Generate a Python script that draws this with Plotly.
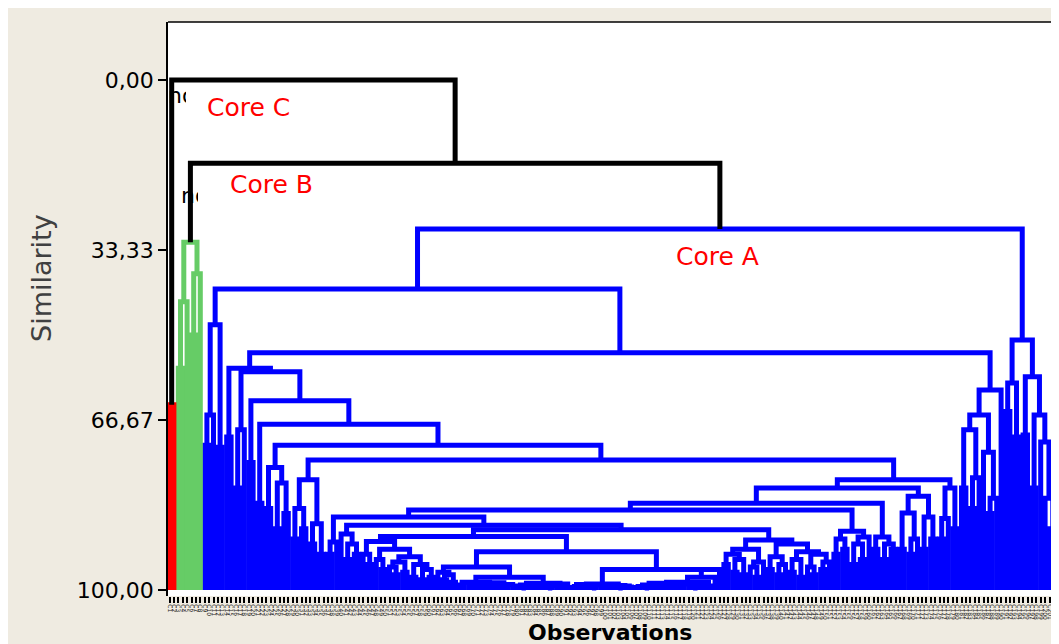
import plotly.graph_objects as go

# ---------------- data ----------------
cluster_names = ["Core C", "Core B", "Core A"]
cluster_sizes = [2, 6, 195]          # observations per cluster, in display order

# similarity level at which each observation joins its right-hand neighbour
# (height of their common node, read off the dendrogram)
merge_similarity = [
    63.7, 0.0, 56.5, 43.5, 31.8, 50.0, 38.0, 16.3,
    71.6, 65.7, 48.0, 72.0, 41.0,
    70.0, 56.5, 80.0, 68.6, 57.2, 75.0, 62.9, 83.0, 67.5,
    84.0, 76.0, 88.0, 79.0, 85.0, 71.6,
    90.0, 84.0, 88.0, 78.4, 91.0, 87.0, 93.0, 74.5,
    93.0, 90.6, 85.7,
    89.0, 94.0, 91.0, 93.0, 87.3,
    93.0, 95.0, 90.5, 94.0, 96.0, 92.0, 95.5, 97.0, 94.5, 96.5,
    93.5, 97.5, 95.0, 98.0, 96.0, 97.5, 89.5, 96.5, 98.0, 97.0,
    98.5, 95.5, 99.0, 98.5, 99.2, 98.8, 99.3, 98.6, 99.4, 99.0,
    99.5, 99.1, 99.4, 98.9, 97.5, 99.2, 99.6, 99.0, 99.4, 98.7,
    99.5, 99.2, 99.6, 99.1, 99.4, 98.8, 99.5, 92.5, 99.3, 98.9,
    99.5, 99.2, 99.6, 99.0, 99.4, 98.8, 99.5, 99.1, 99.6, 99.2,
    99.4, 96.0, 99.5, 99.3, 99.6, 99.0, 99.4, 98.7, 99.5, 99.1,
    99.4, 99.2, 99.5, 98.8, 99.3, 99.6, 99.1, 98.5, 99.2, 97.5,
    96.0, 88.2, 95.0, 93.0, 96.5, 94.0, 97.0, 92.0, 95.5, 97.5,
    94.5, 90.2, 96.0, 93.5, 97.0, 95.0, 91.0, 96.5, 94.0, 97.5,
    92.5, 95.5, 97.0, 93.0, 96.0, 94.5,
    84.3,
    93.0, 90.0, 92.0, 88.5, 95.0, 91.0, 94.0, 89.6,
    83.0,
    92.0, 89.6, 94.0, 91.0, 92.0,
    80.0,
    92.0, 84.9, 93.0, 90.0, 81.6, 92.0, 85.7, 90.0,
    78.4,
    90.0, 86.0, 80.0, 88.0,
    53.5,
    80.0, 68.6, 84.0, 78.0, 65.7, 73.0, 85.0, 82.0, 60.8,
    29.2,
    65.0, 59.4, 70.0, 51.0, 69.6, 58.2, 80.0, 65.7, 71.0, 82.0, 88.0, 91.0,
]

n_obs = sum(cluster_sizes)
observation_labels = ["C%d" % (i + 1) for i in range(n_obs)]

y_tick_values = [0.0, 33.33, 66.67, 100.0]
y_tick_labels = ["0,00", "33,33", "66,67", "100,00"]

# ---------------- styles ----------------
cluster_colors = {0: "#FF0000", 1: "#66CC66", 2: "#0000FF", -1: "#000000"}
FONT = "DejaVu Sans"
LW = 5

# page pixels (window 1059x644, the page body has an 8px margin)
OFF = 8
FIG_W, FIG_H = 1059 - OFF, 644 - OFF
PL, PR, PT, PB = 168, 1059, 22, 596      # plot area in page pixels

def xd(px):
    return (px - 169.5) / 4.4

def yd(py):
    return (py - 80.0) / 5.1

group_of = []
for g, s in enumerate(cluster_sizes):
    group_of += [g] * s

paths = {k: ([], []) for k in cluster_colors}

def build(lo, hi):
    if lo == hi:
        return float(lo), 100.0, group_of[lo]
    seg = merge_similarity[lo:hi]
    m = min(seg)
    k = lo + seg.index(m)
    lx, ly, lc = build(lo, k)
    rx, ry, rc = build(k + 1, hi)
    col = lc if lc == rc else -1
    xs, ys = paths[col]
    xs += [lx, lx, rx, rx, None]
    ys += [ly, m, m, ry, None]
    return (lx + rx) / 2.0, m, col

build(0, n_obs - 1)

fig = go.Figure()
for key in [2, 1, 0, -1]:
    xs, ys = paths[key]
    if xs:
        fig.add_trace(go.Scatter(x=xs, y=ys, mode="lines",
                                 line=dict(color=cluster_colors[key], width=LW),
                                 hoverinfo="skip", showlegend=False))

# partially hidden node captions
fig.add_trace(go.Scatter(x=[xd(168), xd(181)], y=[yd(97), yd(197)], mode="text",
                         text=["node", "node"], textposition="middle right",
                         textfont=dict(family=FONT, size=22, color="black"),
                         hoverinfo="skip", showlegend=False))

shapes = [
    dict(type="rect", xref="x", yref="y", x0=xd(186), x1=xd(300), y0=yd(84), y1=yd(130),
         fillcolor="white", line=dict(width=0), layer="above"),
    dict(type="rect", xref="x", yref="y", x0=xd(198), x1=xd(335), y0=yd(167), y1=yd(212),
         fillcolor="white", line=dict(width=0), layer="above"),
    dict(type="line", xref="paper", yref="paper", x0=0, x1=1, y0=1, y1=1,
         line=dict(color="black", width=1.5)),
]

label_pos = {"Core C": (205, 107), "Core B": (228, 184), "Core A": (674, 256)}
annotations = []
for name in cluster_names:
    px, py = label_pos[name]
    annotations.append(dict(x=xd(px), y=yd(py), xref="x", yref="y", text=name,
                            showarrow=False, xanchor="left", yanchor="middle",
                            font=dict(family=FONT, size=25, color="#FF0000")))
annotations.append(dict(x=(610 - PL) / (PR - PL), y=0, xref="paper", yref="paper",
                        yshift=-(632 - PB), text="<b>Observations</b>", showarrow=False,
                        xanchor="center", yanchor="middle",
                        font=dict(family=FONT, size=22, color="black")))
annotations.append(dict(x=(41 - PL) / (PR - PL), y=(PB - 278) / (PB - PT), xref="paper",
                        yref="paper", text="Similarity", textangle=-90, showarrow=False,
                        xanchor="center", yanchor="middle",
                        font=dict(family=FONT, size=27, color="#404040")))

fig.update_layout(
    width=FIG_W, height=FIG_H,
    margin=dict(l=PL - OFF, r=FIG_W - (PR - OFF), t=PT - OFF, b=FIG_H - (PB - OFF),
                autoexpand=False),
    paper_bgcolor="#EFEBE1", plot_bgcolor="white",
    shapes=shapes, annotations=annotations,
    xaxis=dict(range=[xd(PL), xd(PR)], tickmode="array",
               tickvals=list(range(n_obs)), ticktext=observation_labels,
               tickangle=90, tickfont=dict(family=FONT, size=6, color="#222222"),
               ticks="outside", ticklen=6, tickwidth=1.5, tickcolor="black",
               showgrid=False, zeroline=False, showline=False, automargin=False),
    yaxis=dict(range=[yd(PB), yd(PT)], tickmode="array",
               tickvals=y_tick_values, ticktext=y_tick_labels,
               tickfont=dict(family=FONT, size=22, color="black"),
               ticks="outside", ticklen=8, tickwidth=1.5, tickcolor="black",
               showgrid=False, zeroline=False, showline=True, linecolor="black",
               linewidth=1.5, automargin=False),
)

fig.write_html("out.html")
